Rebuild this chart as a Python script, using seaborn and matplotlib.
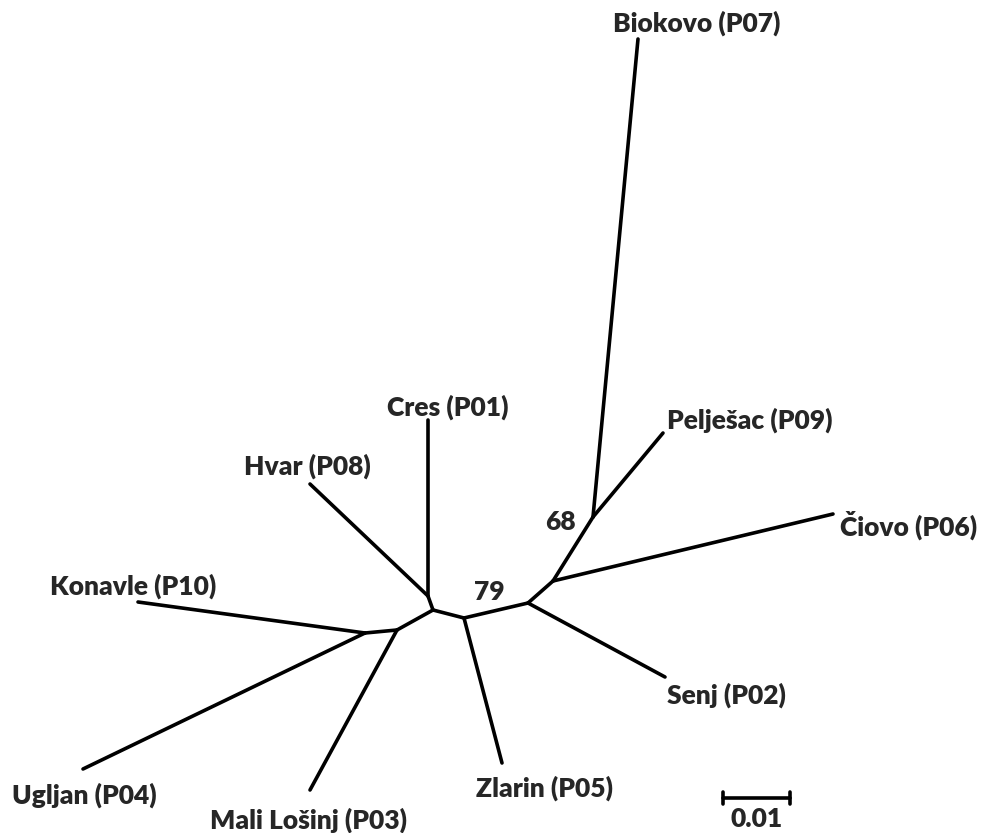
import pandas as pd
import numpy as np
import matplotlib.pyplot as plt
import seaborn as sns

# node positions of the unrooted tree layout (pixel-like units, y downwards)
node_names = ['Biokovo', 'Pelješac', 'Čiovo', 'Senj', 'Zlarin', 'Mali Lošinj', 'Ugljan',
              'Konavle', 'Hvar', 'Cres', 'nA', 'nB', 'nC', 'nD', 'nE', 'nF', 'nG', 'nH']
node_x = [638, 663, 833, 665, 502, 310, 83, 138, 310, 428, 428, 433, 397, 464, 365, 528, 553, 593]
node_y = [39, 433, 514, 677, 763, 790, 769, 602, 484, 420, 596, 610, 630, 618, 633, 603, 581, 517]

edge_from = ['nH', 'nH', 'nG', 'nG', 'nF', 'nF', 'nD', 'nD', 'nB', 'nB', 'nC', 'nC', 'nE', 'nE',
             'nA', 'nA', 'nA']
edge_to = ['Biokovo', 'Pelješac', 'nH', 'Čiovo', 'nG', 'Senj', 'nF', 'Zlarin', 'nD', 'nC', 'nE',
           'Mali Lošinj', 'Konavle', 'Ugljan', 'Hvar', 'Cres', 'nB']

labels = ['Biokovo (P07)', 'Pelješac (P09)', 'Čiovo (P06)', 'Senj (P02)', 'Zlarin (P05)',
          'Mali Lošinj (P03)', 'Ugljan (P04)', 'Konavle (P10)', 'Hvar (P08)', 'Cres (P01)']
label_x = [697, 750, 909, 726, 545, 309, 84, 133, 307, 448]
label_y = [23, 420, 525, 695, 788, 820, 795, 586, 466, 407]

bootstrap = ['68', '79']
boot_x = [560, 489]
boot_y = [522, 592]

scale_len = 67  # length of 0.01 substitutions per site
scale_x0, scale_y = 723, 798

pos = dict(zip(node_names, zip(node_x, node_y)))
rows = []
for i, (a, b) in enumerate(zip(edge_from, edge_to)):
    rows.append({'edge': i, 'x': pos[a][0], 'y': pos[a][1]})
    rows.append({'edge': i, 'x': pos[b][0], 'y': pos[b][1]})
edges = pd.DataFrame(rows)

sns.set_style('white')
plt.rcParams['font.family'] = ['Lato', 'DejaVu Sans']

fig = plt.figure(figsize=(9.83, 8.33), dpi=100)
ax = fig.add_axes([0, 0, 1, 1])
sns.lineplot(data=edges, x='x', y='y', units='edge', estimator=None, sort=False,
             color='black', linewidth=2.6, ax=ax, legend=False)

for t, x, y in zip(labels, label_x, label_y):
    ax.text(x, y, t, ha='center', va='center', fontsize=19, fontweight='heavy')
for t, x, y in zip(bootstrap, boot_x, boot_y):
    ax.text(x, y, t, ha='center', va='center', fontsize=19, fontweight='heavy')

# scale bar
ax.plot([scale_x0, scale_x0 + scale_len], [scale_y, scale_y], color='black', lw=2.6)
for xx in [scale_x0, scale_x0 + scale_len]:
    ax.plot([xx, xx], [scale_y - 6, scale_y + 6], color='black', lw=2.6)
ax.text(scale_x0 + scale_len / 2, scale_y + 21, '0.01', ha='center', va='center',
        fontsize=19, fontweight='heavy')

ax.set_xlim(0, 983)
ax.set_ylim(833, 0)
ax.axis('off')
fig.savefig('out.png', dpi=100)
